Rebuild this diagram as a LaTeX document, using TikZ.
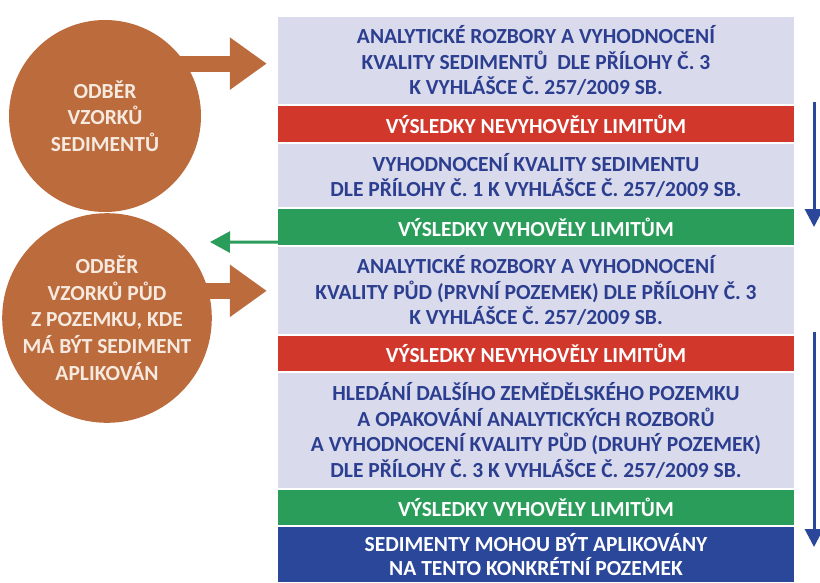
\documentclass[tikz,border=0pt]{standalone}
\usepackage{fontspec}
\setmainfont{Carlito}
\usetikzlibrary{arrows.meta}
\definecolor{lav}{RGB}{217,218,236}
\definecolor{navy}{RGB}{44,62,143}
\definecolor{redbar}{RGB}{210,55,44}
\definecolor{greenbar}{RGB}{42,157,90}
\definecolor{bluebar}{RGB}{43,71,154}
\definecolor{rust}{RGB}{188,107,60}
\definecolor{cream}{RGB}{246,234,224}

\begin{document}
\begin{tikzpicture}[x=1pt,y=-1pt]
\tikzstyle{band}=[minimum width=516pt, inner sep=0pt, align=center, font=\fontsize{21.5}{25.5}\selectfont\bfseries]
\tikzstyle{textbox}=[band, fill=lav, text=navy]
\tikzstyle{nobar}=[band, fill=redbar, text=white]
\tikzstyle{yesbar}=[band, fill=greenbar, text=white]
\tikzstyle{endbar}=[band, fill=bluebar, text=white]
\tikzstyle{samplecirc}=[circle, fill=rust, text=cream, align=center, inner sep=0pt, font=\fontsize{21.5}{26.7}\selectfont\bfseries]
\tikzstyle{fatarrow}=[rust, line width=16pt, -{Triangle[length=37pt,width=50pt]}]
\tikzstyle{backarrow}=[greenbar, line width=3pt, -{Triangle[length=20pt,width=21pt]}]
\tikzstyle{downarrow}=[bluebar, line width=3pt, -{Triangle[length=18pt,width=18pt]}]
\useasboundingbox (0,0) rectangle (820,582);

\node[textbox, minimum height=87pt] (a1) at (536,60.5) {ANALYTICKÉ ROZBORY A VYHODNOCENÍ\\KVALITY SEDIMENTŮ \ DLE PŘÍLOHY Č. 3\\K VYHLÁŠCE Č. 257/2009 SB.};
\node[nobar, minimum height=36pt] (n1) at (536,124) {VÝSLEDKY NEVYHOVĚLY LIMITŮM};
\node[textbox, minimum height=63pt] (a2) at (536,175.5) {VYHODNOCENÍ KVALITY SEDIMENTU\\DLE PŘÍLOHY Č. 1 K VYHLÁŠCE Č. 257/2009 SB.};
\node[yesbar, minimum height=36pt] (y1) at (536,227) {VÝSLEDKY VYHOVĚLY LIMITŮM};
\node[textbox, minimum height=87pt] (a3) at (536,290.5) {ANALYTICKÉ ROZBORY A VYHODNOCENÍ\\KVALITY PŮD (PRVNÍ POZEMEK) DLE PŘÍLOHY Č. 3\\K VYHLÁŠCE Č. 257/2009 SB.};
\node[nobar, minimum height=35pt] (n2) at (536,353.5) {VÝSLEDKY NEVYHOVĚLY LIMITŮM};
\node[textbox, minimum height=115pt] (a4) at (536,430.5) {HLEDÁNÍ DALŠÍHO ZEMĚDĚLSKÉHO POZEMKU\\A OPAKOVÁNÍ ANALYTICKÝCH ROZBORŮ\\A VYHODNOCENÍ KVALITY PŮD (DRUHÝ POZEMEK)\\DLE PŘÍLOHY Č. 3 K VYHLÁŠCE Č. 257/2009 SB.};
\node[yesbar, minimum height=35pt] (y2) at (536,507.5) {VÝSLEDKY VYHOVĚLY LIMITŮM};
\node[endbar, minimum height=55pt, font=\fontsize{21.5}{24.5}\selectfont\bfseries] (e) at (536,554.5) {SEDIMENTY MOHOU BÝT APLIKOVÁNY\\NA TENTO KONKRÉTNÍ POZEMEK};

\node[samplecirc, minimum size=192pt] (s1) at (105,116) {ODBĚR\\VZORKŮ\\SEDIMENTŮ};
\node[samplecirc, minimum size=200pt] (s2) at (107,318) {ODBĚR\\VZORKŮ PŮD\\Z POZEMKU, KDE\\MÁ BÝT SEDIMENT\\APLIKOVÁN};

\coordinate (back) at (210,242);
\coordinate (d1) at (814,102);
\coordinate (d2) at (814,227);
\coordinate (d3) at (814,332);
\coordinate (d4) at (814,547);

\draw[fatarrow] ([xshift=-20pt]s1.33) -- ([xshift=-11pt]a1.west |- s1.33);
\draw[fatarrow] ([xshift=-20pt]s2.15) -- ([xshift=-11pt]a3.west |- s2.15);
\draw[backarrow] ([yshift=3pt]y1.south west) -- (back);
\draw[downarrow] (d1) -- (d2);
\draw[downarrow] (d3) -- (d4);

\end{tikzpicture}
\end{document}
